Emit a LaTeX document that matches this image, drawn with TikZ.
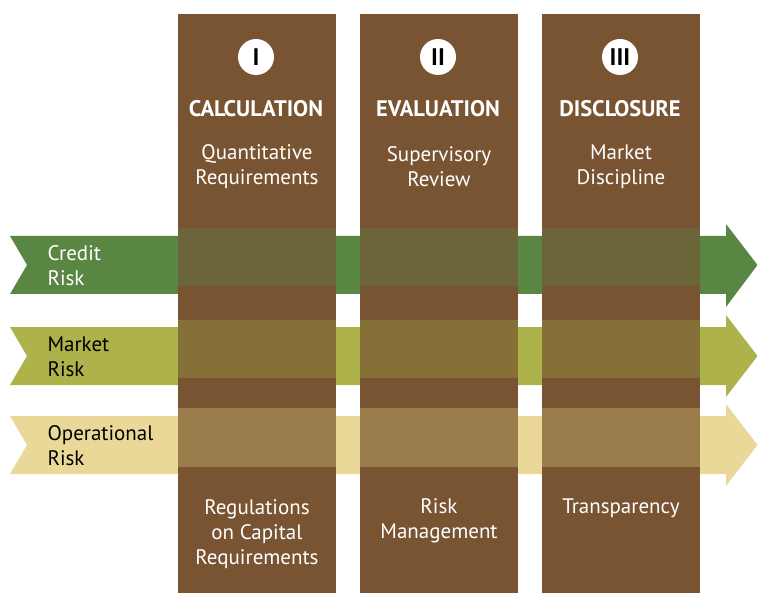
\documentclass[tikz,border=0pt]{standalone}
\usepackage{fontspec}
\setmainfont{PT Sans}
\definecolor{colbrown}{RGB}{120,84,50}
\definecolor{greenband}{RGB}{90,134,68}
\definecolor{marketband}{RGB}{173,178,74}
\definecolor{opband}{RGB}{234,216,152}
\definecolor{greenov}{RGB}{108,101,58}
\definecolor{marketov}{RGB}{133,112,56}
\definecolor{opov}{RGB}{154,124,74}
\begin{document}
\begin{tikzpicture}[x=1pt,y=-1pt,
  colbox/.style={fill=colbrown,draw=none},
  numcirc/.style={circle,fill=white,minimum size=36pt,inner sep=0pt,font=\fontsize{24}{24}\selectfont\bfseries,text=black},
  headtxt/.style={text=white,font=\fontsize{22.5}{22.5}\selectfont\bfseries},
  subtxt/.style={text=white,align=center,font=\fontsize{21}{25}\selectfont},
  risktxt/.style={anchor=west,align=left,font=\fontsize{21}{25}\selectfont}
]
\useasboundingbox (0,0) rectangle (757,593);
% arrows
\foreach \t/\b/\ht/\hb/\m/\c [count=\i] in {236/294/224/307/265/greenband,327/385/315/397/356/marketband,416/474/404/486/445/opband}{
  \fill[\c] (10,\t) -- (726,\t) -- (726,\ht) -- (757.5,\m) -- (726,\hb) -- (726,\b) -- (10,\b) -- (27,\m) -- cycle;
}
% columns
\foreach \x/\n in {178/a,360/b,542/c}{
  \fill[colbox] (\x,14) rectangle (\x+158,593);
  \fill[greenov] (\x,228) rectangle (\x+158,286);
  \fill[marketov] (\x,320) rectangle (\x+158,378);
  \fill[opov] (\x,408) rectangle (\x+158,467);
}
\node[numcirc] (c1) at (256,57) {I};
\node[numcirc] (c2) at (438,57) {II};
\node[numcirc] (c3) at (620,57) {III};
\node[headtxt] (h1) at (256,109) {CALCULATION};
\node[headtxt] (h2) at (438,109) {EVALUATION};
\node[headtxt] (h3) at (620,109) {DISCLOSURE};
\node[subtxt] (s1) at (257,167) {Quantitative\\Requirements};
\node[subtxt] (s2) at (439,167) {Supervisory\\Review};
\node[subtxt] (s3) at (621,167) {Market\\Discipline};
\node[subtxt] (b1) at (257,534) {Regulations\\on Capital\\Requirements};
\node[subtxt] (b2) at (439,521) {Risk\\Management};
\node[subtxt] (b3) at (621,508) {Transparency};
\node[risktxt,text=white] (r1) at (44,266) {Credit\\Risk};
\node[risktxt,text=black] (r2) at (44,357) {Market\\Risk};
\node[risktxt,text=black] (r3) at (44,446) {Operational\\Risk};
\end{tikzpicture}
\end{document}
